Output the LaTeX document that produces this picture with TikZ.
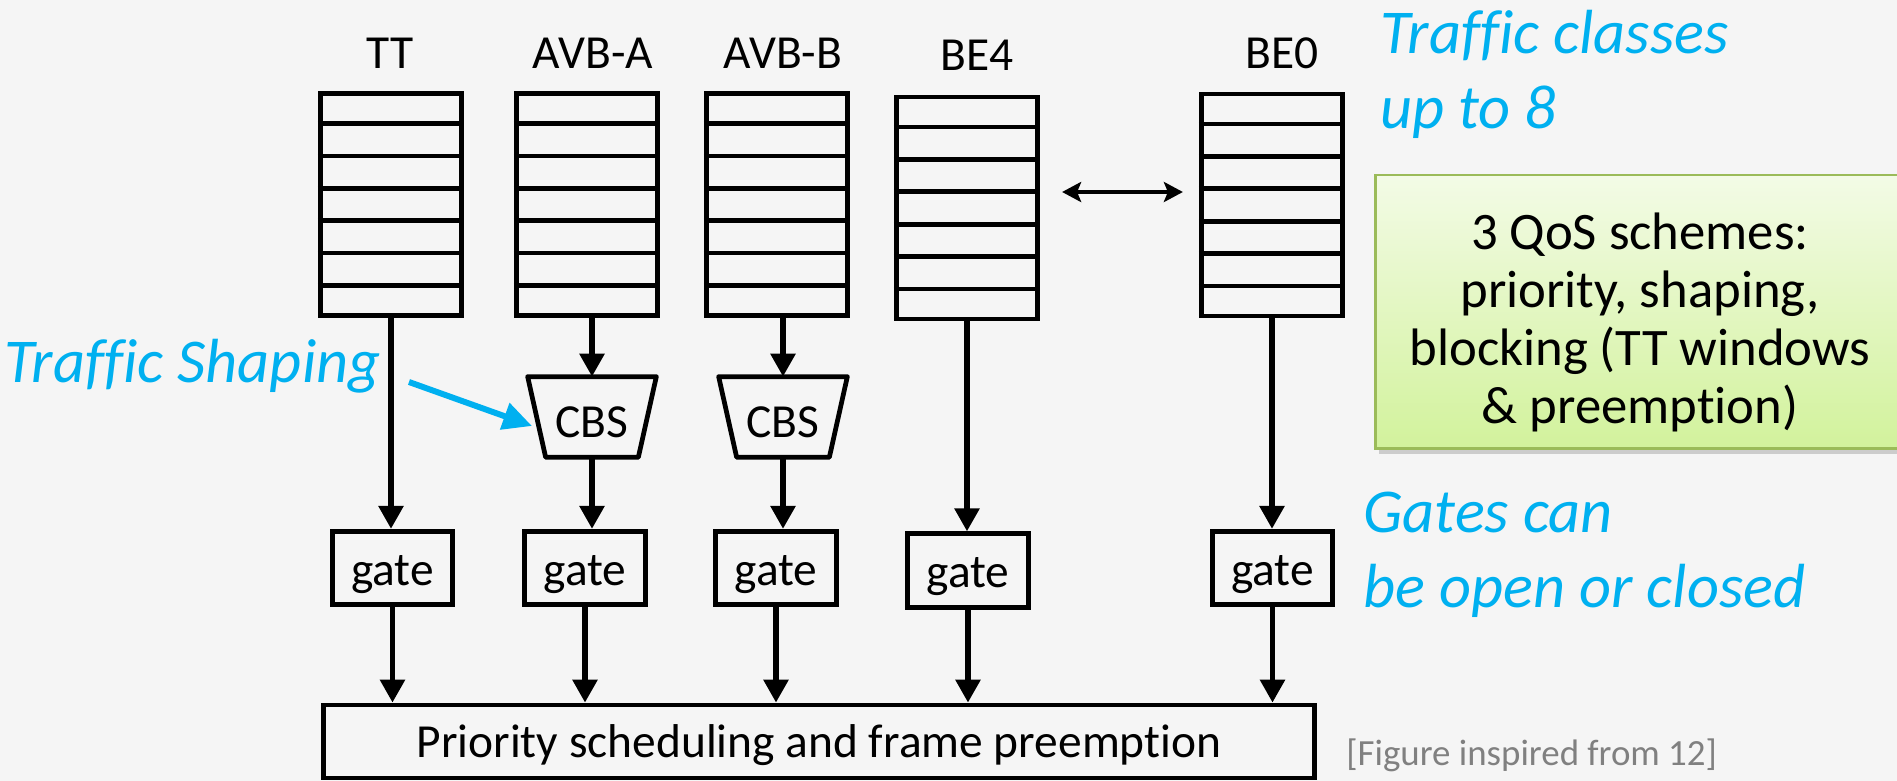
\documentclass[tikz,border=0pt]{standalone}
\usepackage{fontspec}
\setmainfont{Carlito}[Ligatures=NoCommon]
\usetikzlibrary{arrows.meta,calc,shadows}

\definecolor{bgpaper}{HTML}{F5F5F5}
\definecolor{skyblue}{HTML}{00B0F0}
\definecolor{qosedge}{HTML}{9BBB59}
\definecolor{qostop}{HTML}{F3FBE6}
\definecolor{qosbot}{HTML}{D2F29C}
\definecolor{notegray}{HTML}{808080}

\begin{document}
\begin{tikzpicture}[x=0.02cm,y=-0.02cm,
  body/.style={font=\fontsize{27}{32}\selectfont},
  cls/.style={body, anchor=base, inner sep=0},
  queue/.style={draw, line width=2.7pt, minimum width=2.83cm, minimum height=4.44cm, inner sep=0},
  gatebox/.style={body, draw, line width=2.7pt, minimum width=2.41cm, minimum height=1.47cm,
    inner sep=0, text height=1.0cm, text depth=0.32cm},
  cbsbox/.style={body, minimum width=2.56cm, minimum height=1.6cm, inner sep=0,
    text height=1.0cm, text depth=0.2cm},
  flow/.style={line width=3.2pt, -{Triangle[length=0.46cm,width=0.48cm]}},
  swap/.style={line width=2.4pt, {Stealth[length=0.38cm,width=0.4cm,inset=0.08cm]}-{Stealth[length=0.38cm,width=0.4cm,inset=0.08cm]}},
  note/.style={font=\fontsize{35.5}{42.7}\selectfont\itshape, text=skyblue, align=left, inner sep=0},
]
% paper
\fill[bgpaper] (0,0) rectangle (1897,781);
\useasboundingbox (0,0) rectangle (1897,781);

% traffic class names
\node[cls] (lTT)  at (390,68)  {TT};
\node[cls] (lA)   at (593,68)  {AVB-A};
\node[cls] (lB)   at (783,68)  {AVB-B};
\node[cls] (lBEf) at (977,70)  {BE4};
\node[cls] (lBEz) at (1282,68) {BE0};

% per-class queues, seven slots each
\node[queue] (qTT)  at (391,204.5) {};
\node[queue] (qA)   at (587,204.5) {};
\node[queue] (qB)   at (777,204.5) {};
\node[queue] (qBEf) at (967,208)   {};
\node[queue] (qBEz) at (1272,205)  {};
\foreach \q in {qTT,qA,qB,qBEf,qBEz}
  \foreach \k in {1,...,6}
    \draw[line width=2.7pt] ($(\q.north west)!\k/7!(\q.south west)$) -- ($(\q.north east)!\k/7!(\q.south east)$);

% the omitted classes in between
\draw[swap] ($(qBEf.east)+(22,-16)$) -- ($(qBEz.west)+(-16,-13)$);

% credit based shapers
\node[cbsbox] (cA) at (592,417) {CBS};
\node[cbsbox] (cB) at (783,417) {CBS};
\foreach \c in {cA,cB}
  \draw[line width=2.7pt, line join=round] (\c.north west) -- (\c.north east) -- ($(\c.south east)+(-18,0)$)
    -- ($(\c.south west)+(18,0)$) -- cycle;

% transmission gates
\node[gatebox] (gTT)  at (392.5,568) {gate};
\node[gatebox] (gA)   at (585,568)   {gate};
\node[gatebox] (gB)   at (776,568)   {gate};
\node[gatebox] (gBEf) at (968,570.5) {gate};
\node[gatebox] (gBEz) at (1272.5,568) {gate};

% transmission selection
\node[body, draw, line width=2.7pt, minimum width=19.82cm, minimum height=1.46cm, inner sep=0,
  text height=1.0cm, text depth=0.38cm] (prio) at (819,741.5) {Priority scheduling and frame preemption};

% queue -> shaper -> gate
\draw[flow] (qTT.south) -- (qTT.south |- gTT.north);
\draw[flow] (cA.north |- qA.south) -- (cA.north);
\draw[flow] (cB.north |- qB.south) -- (cB.north);
\draw[flow] (cA.south) -- (cA.south |- gA.north);
\draw[flow] (cB.south) -- (cB.south |- gB.north);
\draw[flow] (qBEf.south) -- (qBEf.south |- gBEf.north);
\draw[flow] (qBEz.south) -- (qBEz.south |- gBEz.north);

% gate -> scheduler
\foreach \g in {gTT,gA,gB,gBEf,gBEz}
  \draw[flow] (\g.south) -- (\g.south |- prio.north);

% annotations
\node[note, anchor=base west] (shapeNote) at (4,382) {Traffic Shaping};
\coordinate (shapeTail) at (409,382);
\coordinate (cbsTip) at (532,426);
\draw[skyblue, line width=3.4pt, -{Triangle[length=0.58cm,width=0.54cm]}] (shapeTail) -- (cbsTip);

\node[note, anchor=west] (classNote) at (1380,74) {Traffic classes\\up to 8};
\node[note, anchor=west] (gateNote) at (1363,554.5) {Gates can\\be open or closed};

\node[draw=qosedge, line width=1.6pt, top color=qostop, bottom color=qosbot,
  minimum width=10.99cm, minimum height=5.47cm,
  drop shadow={shadow xshift=2pt, shadow yshift=-3pt, opacity=0.35}] (qos) at (1650.25,311.75) {};
\node[font=\fontsize{30}{33}\selectfont, align=center, inner sep=0] (qosText) at (1640,322)
  {3 QoS schemes:\\priority, shaping,\\blocking (TT windows\\\& preemption)};

\node[font=\fontsize{21}{25}\selectfont, text=notegray, anchor=base west, inner sep=0] (credit)
  at (1346,765) {[Figure inspired from 12]};
\end{tikzpicture}
\end{document}
